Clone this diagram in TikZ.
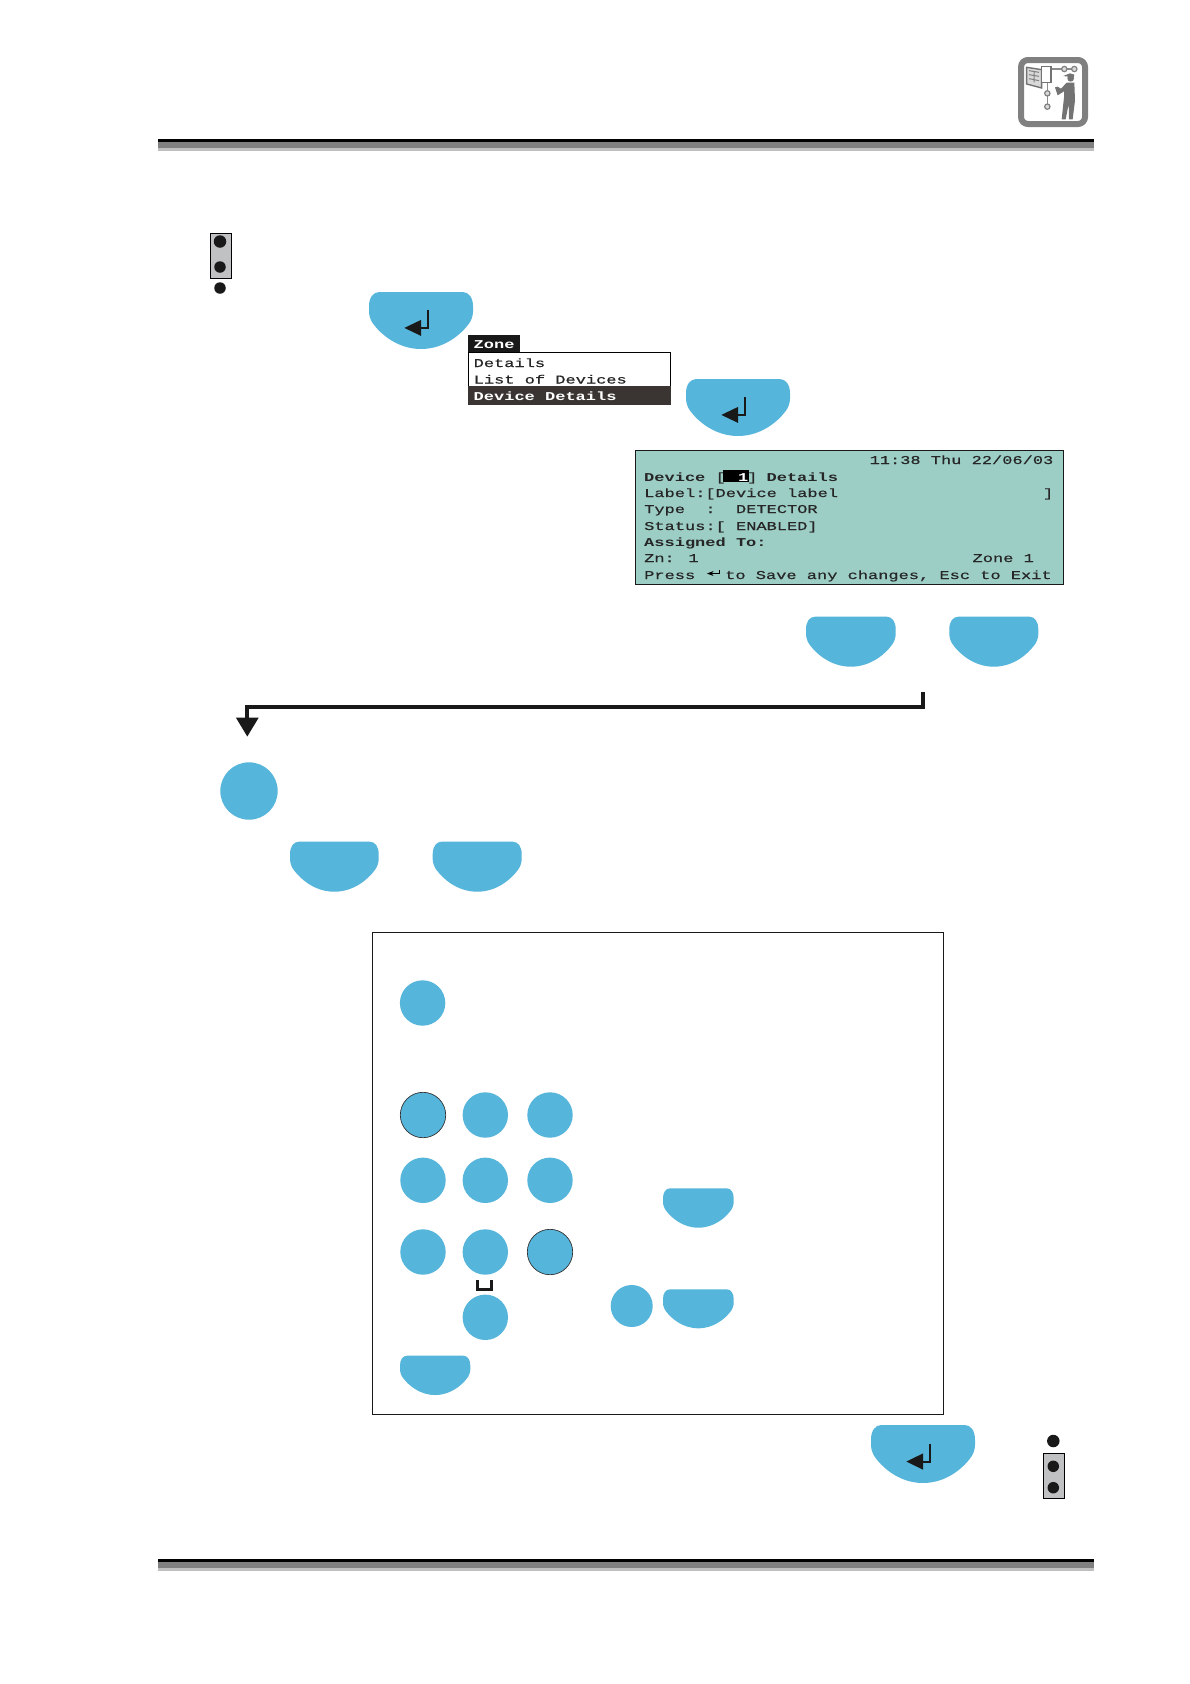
\documentclass[tikz,border=0pt]{standalone}
\usepackage{fontspec}
\usetikzlibrary{arrows.meta, positioning, calc}
\newfontfamily\lcdfont[FakeStretch=1.417,FakeBold=0.6]{Liberation Mono}
\newfontfamily\lcdheavy[FakeStretch=1.417]{Liberation Mono Bold}
\definecolor{keyblue}{HTML}{56B5DA}
\definecolor{lcdgreen}{HTML}{9CCEC6}
\definecolor{linkgray}{HTML}{BFC1C3}
\definecolor{menudark}{HTML}{3A3532}
\newcommand{\softkeyoutline}{(0.1,0) -- (0.9,0) .. controls (0.96,0) and (1,0.1) .. (1,0.25) -- (1,0.35)
    .. controls (1,0.42) and (0.98,0.52) .. (0.955,0.57)
    .. controls (0.88,0.75) and (0.72,1) .. (0.5,1)
    .. controls (0.28,1) and (0.12,0.75) .. (0.045,0.57)
    .. controls (0.02,0.52) and (0,0.42) .. (0,0.35) -- (0,0.25)
    .. controls (0,0.1) and (0.04,0) .. (0.1,0) -- cycle}
\tikzset{
    keyround/.style={circle, inner sep=0pt, minimum size=45.4pt, fill=keyblue},
    keyringed/.style={keyround, draw=black!80, line width=0.7pt},
    lcdtext/.style={anchor=west, inner sep=0pt, text height=8pt, text depth=0pt, font=\lcdfont\fontsize{12}{12}\selectfont, text=black!85},
    lcdbold/.style={lcdtext, font=\lcdheavy\fontsize{12}{12}\selectfont},
    pin/.style={circle, inner sep=0pt, minimum size=11.5pt, fill=black!90},
    flowline/.style={line width=4.2pt, black!90, line join=miter, -{Triangle[width=21.5pt,length=19pt]}},
    softkey/.pic={
        \fill[keyblue] \softkeyoutline;
    },
    enterkey/.pic={
        \fill[keyblue] \softkeyoutline;
        \draw[line width=2pt, black!90] (0.57,0.32) -- (0.57,0.63) -- (0.48,0.63);
        \fill[black!90] (0.34,0.63) -- (0.5,0.49) -- (0.5,0.77) -- cycle;
    }
}
\begin{document}
\begin{tikzpicture}[x=1pt, y=-1pt, >=Stealth]
        \useasboundingbox (0,0) rectangle (1190,1684);
        \fill[white] (0,0) rectangle (1190,1684);

        % Header rule
        \fill[black] (158,139) rectangle (1094,142);
        \fill[black!50] (158,142) rectangle (1094,148);
        \fill[black!25] (158,148) rectangle (1094,151);

        % Footer rule
        \fill[black] (158,1559) rectangle (1094,1562);
        \fill[black!50] (158,1562) rectangle (1094,1568);
        \fill[black!25] (158,1568) rectangle (1094,1571);

        % Installer icon
        \draw[line width=6pt, black!50, rounded corners=7pt] (1021,60) rectangle (1085,124);
        \begin{scope}[shift={(1015,54)}, scale=0.3333]
            \draw[black!45, line width=1.4pt] (108,45) -- (170,45); % top rod
            \draw[black!45, line width=1.4pt] (97,85) -- (97,150); % lower rod
            \draw[black!50, line width=1.2pt, fill=black!15] (148,45) circle (8); % top knob
            \draw[black!50, line width=1.2pt, fill=black!15] (178,45) circle (8); % end knob
            \draw[black!50, line width=1.2pt, fill=black!15] (97,118) circle (8); % lower knob
            \draw[black!50, line width=1.2pt, fill=black!15] (97,158) circle (8); % end knob
            \draw[black!55, line width=1.4pt, fill=black!15] (35,40) -- (80,47) -- (80,102) -- (35,90) -- cycle; % door
            \draw[black!55, line width=1.6pt, fill=white] (80,37) rectangle (108,85); % cabinet
            \draw[black!50, line width=1pt] (42,50) -- (72,55) (42,62) -- (72,67) (42,74) -- (72,80) (57,55) -- (57,85); % door lines
            \fill[black!55] (167,73) circle (10); % head
            \fill[black!55] (145,66) -- (165,58) -- (178,62) -- (176,70) -- (160,68) -- cycle; % cap
            \fill[black!55] (155,86) -- (178,86) -- (180,140) -- (173,196) -- (162,196) -- (161,150) -- (152,196) -- (140,196) -- (147,130) -- (147,112) -- (128,124) -- (120,100) -- (128,98) -- (138,104) -- cycle; % body
        \end{scope}

        % Link at the top
        \node (linktop) [draw=black, line width=0.8pt, fill=linkgray, minimum width=21.5pt, minimum height=45pt, inner sep=0pt] at (221,255.5) {};
        \node (pintopa) [pin, minimum size=12.5pt] at (220,241.5) {};
        \node (pintopb) [pin] at (220,267) {};
        \node (pintopc) [pin] at (220,288) {};

        % Enter keys
        \pic (enterkeya) [xscale=104, yscale=57] at (369,292) {enterkey};
        \pic (enterkeyb) [xscale=104, yscale=57] at (686,379) {enterkey};
        \pic (enterkeyc) [xscale=104, yscale=58] at (871,1425) {enterkey};

        % Zone menu
        \node (menubox) [draw=black, line width=1.2pt, fill=white, minimum width=202pt, minimum height=52.5pt, inner sep=0pt] at (569.5,378.5) {};
        \fill[menudark] (menubox.west |- 0,385.5) rectangle (menubox.south east);
        \node (menutab) [fill=black!90, minimum width=52pt, minimum height=17pt, inner sep=0pt] at (494,343.5) {};
        \node (menutitle) [lcdbold, text=white] at (473.5,344) {Zone};
        \node (menuitema) [lcdtext] at (473.5,363) {Details};
        \node (menuitemb) [lcdtext] at (473.5,379.5) {List of Devices};
        \node (menuitemc) [lcdbold, text=white] at (473.5,396) {Device Details};

        % LCD screen
        \node (lcdscreen) [draw=black!90, line width=0.8pt, fill=lcdgreen, minimum width=428pt, minimum height=134pt, inner sep=0pt] at (849,517) {};
        \node (lcdclock) [lcdtext] at (869.4,460) {11:38 Thu 22/06/03};
        \node (lcddevice) [lcdbold] at (644,477) {Device};
        \node (lcdopen) [lcdtext] at (715.4,477) {[};
        \node (lcdcursor) [fill=black, minimum width=26pt, minimum height=12pt, inner sep=0pt] at (736,476) {};
        \node (lcdindex) [lcdbold, text=white] at (738,477) {1};
        \node (lcdclose) [lcdtext] at (747,477) {]};
        \node (lcddetails) [lcdbold] at (766.4,477) {Details};
        \node (lcdlabel) [lcdtext] at (644,493) {Label:[Device label};
        \node (lcdlabelend) [lcdtext] at (1042.8,493) {]};
        \node (lcdtype) [lcdtext] at (644,509) {Type};
        \node (lcdtypecolon) [lcdtext] at (705.2,509) {:};
        \node (lcdtypevalue) [lcdtext] at (735.8,509) {DETECTOR};
        \node (lcdstatus) [lcdtext] at (644,526) {Status:[};
        \node (lcdstatusvalue) [lcdtext] at (735.8,526) {ENABLED]};
        \node (lcdassigned) [lcdbold] at (644,542) {Assigned To:};
        \node (lcdzn) [lcdtext] at (644,558) {Zn: 1};
        \node (lcdzone) [lcdtext] at (972.4,558) {Zone 1};
        \node (lcdpress) [lcdtext] at (644,575) {Press};
        \node (lcdsave) [lcdtext] at (725,575) {to Save any changes, Esc to Exit};
        \draw[line width=0.8pt, ->] (719.5,570) -- (719.5,573.5) -- (707,573.5);

        % Up and down keys
        \pic (keyupa) [xscale=89.7, yscale=50] at (806,616.7) {softkey};
        \pic (keydowna) [xscale=89, yscale=50] at (949.3,616.7) {softkey};

        % Flow arrow
        \coordinate (flowstart) at (922.7,692);
        \coordinate (flowcorner) at (247.3,706.6);
        \coordinate (flowend) at (247.3,736.7);
        \draw[flowline] (flowstart) |- (flowcorner) -- (flowend);

        % Key and second pair
        \node (keymode) [keyround, minimum size=57.4pt] at (249,791) {};
        \pic (keyupb) [xscale=88.7, yscale=50] at (290,841.7) {softkey};
        \pic (keydownb) [xscale=89, yscale=50] at (432.7,841.7) {softkey};

        % Legend box
        \node (legendbox) [draw=black!90, line width=0.8pt, minimum width=571pt, minimum height=482pt, inner sep=0pt] at (658.2,1173) {};

        % Keypad
        \node (keytop) [keyround] at (422.6,1003) {};
        \node (keyone) [keyringed] at (423,1115) {};
        \node (keytwo) [keyround] at (485.3,1115) {};
        \node (keythree) [keyround] at (550,1115) {};
        \node (keyfour) [keyround] at (423,1180.3) {};
        \node (keyfive) [keyround] at (485.3,1180.3) {};
        \node (keysix) [keyround] at (550,1180.3) {};
        \node (keyseven) [keyround] at (423,1252) {};
        \node (keyeight) [keyround] at (485.3,1252) {};
        \node (keynine) [keyringed] at (550,1252) {};
        \node (keyzero) [keyround] at (485.3,1317.3) {};
        \draw[line width=3pt, black!90, line join=miter] (477.5,1280) -- (477.5,1289.3) -- (491.8,1289.3) -- (491.8,1280); % space mark

        % Legend keys
        \pic (keyclear) [xscale=70.7, yscale=39.4] at (663,1188.3) {softkey};
        \node (keyshift) [keyround, minimum size=42pt] at (631.7,1306) {};
        \pic (keycase) [xscale=70.7, yscale=39] at (663,1289.3) {softkey};
        \pic (keyback) [xscale=70.3, yscale=39.3] at (400,1355.7) {softkey};

        % Link at the bottom
        \node (linkbottom) [draw=black, line width=0.8pt, fill=linkgray, minimum width=21.4pt, minimum height=45.4pt, inner sep=0pt] at (1054,1476) {};
        \node (pinbotta) [pin, minimum size=12.5pt] at (1053.3,1441) {};
        \node (pinbottb) [pin] at (1053.3,1466.3) {};
        \node (pinbottc) [pin] at (1053.3,1487.7) {};
    \end{tikzpicture}
\end{document}
